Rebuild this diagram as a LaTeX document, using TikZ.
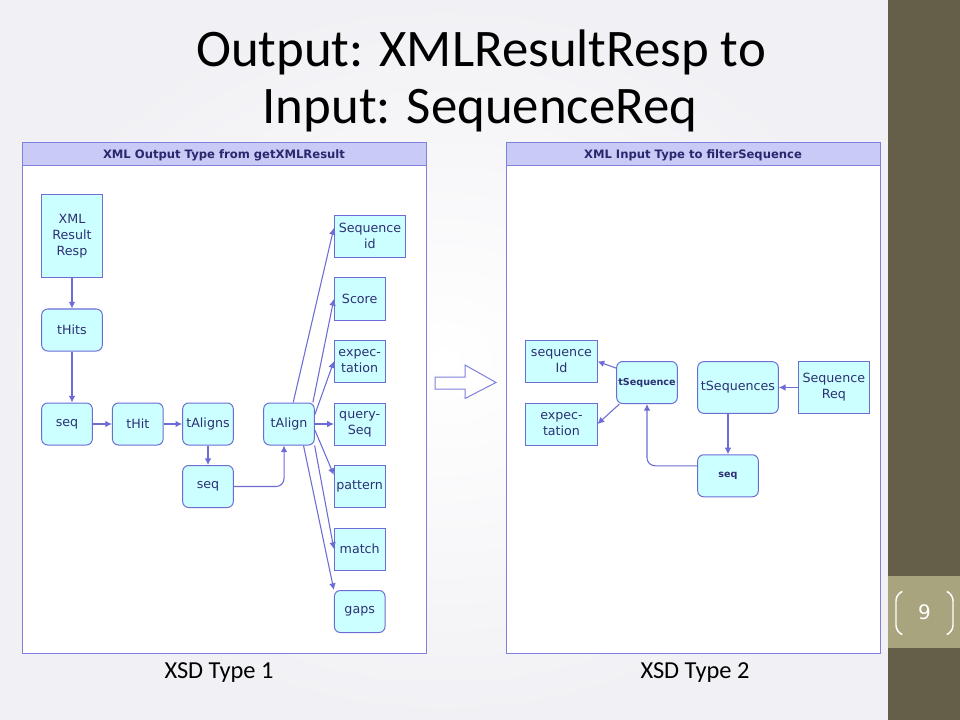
\documentclass[tikz,border=0pt]{standalone}
\usepackage{fontspec}
\setmainfont{Carlito}
\newfontfamily\boxfont{DejaVu Sans}
\usepackage{tikz}
\usetikzlibrary{arrows.meta}

\definecolor{bandDark}{RGB}{101,95,73}
\definecolor{bandLight}{RGB}{168,164,126}
\definecolor{frameBlue}{RGB}{128,128,222}
\definecolor{headFill}{RGB}{202,202,247}
\definecolor{headText}{RGB}{40,40,110}
\definecolor{boxFill}{RGB}{204,255,255}
\definecolor{boxLine}{RGB}{108,108,212}
\definecolor{boxText}{RGB}{45,48,115}

\tikzset{
  sqbox/.style={draw=boxLine, fill=boxFill, line width=0.75pt, inner sep=1pt,
    minimum width=38pt, minimum height=31.5pt, align=center, text=boxText,
    font=\boxfont\fontsize{9.5}{12}\selectfont},
  rdbox/.style={sqbox, rounded corners=4.5pt},
  smalltype/.style={font=\boxfont\bfseries\fontsize{7.2}{9}\selectfont},
  header/.style={text=headText, font=\boxfont\bfseries\fontsize{8.7}{10}\selectfont},
  link/.style={draw=boxLine, line width=0.8pt, -{Latex[length=5pt,width=5pt]}},
}

\begin{document}
\begin{tikzpicture}[x=0.75pt,y=0.75pt,yscale=-1,xscale=1]
\useasboundingbox (0,0) rectangle (960,720);

%Background
\shade[inner color=white, outer color={rgb,255:red,241;green,241;blue,245}] (0,0) rectangle (888,720);
\fill[bandDark] (888,0) rectangle (960,720);
\fill[bandLight] (888,576) rectangle (960,648);
\draw[white, line width=1.1pt, rounded corners=5pt] (901,592) -- (896,594) -- (896,632) -- (901,634);
\draw[white, line width=1.1pt, rounded corners=5pt] (948,592) -- (953,594) -- (953,632) -- (948,634);
% Text Node
\node[text=white, font=\boxfont\fontsize{15}{17}\selectfont] (pgnum) at (924.5,612.5) {9};

% Text Node
\node[font=\fontsize{39.6}{48}\selectfont, anchor=base] (titleA) at (481,67) {Output: XMLResultResp to};
% Text Node
\node[font=\fontsize{39.6}{48}\selectfont, anchor=base] (titleB) at (480,124) {Input: SequenceReq};

%Shape: Rectangle
\draw[draw=frameBlue, fill=white, line width=0.75pt] (22,143) rectangle (426,653);
\draw[draw=frameBlue, fill=headFill, line width=0.75pt] (22,143) rectangle (426,166);
%Shape: Rectangle
\draw[draw=frameBlue, fill=white, line width=0.75pt] (506,143) rectangle (880,653);
\draw[draw=frameBlue, fill=headFill, line width=0.75pt] (506,143) rectangle (880,166);
% Text Node
\node[header] (hdrOut) at (224,155) {XML Output Type from getXMLResult};
% Text Node
\node[header] (hdrIn) at (693,155) {XML Input Type to filterSequence};

%Shape: Hollow Arrow
\draw[draw=frameBlue, fill=white, line width=0.75pt] (435,377) -- (465,377) -- (465,365) -- (496,382.5) -- (465,398.5) -- (465,389) -- (435,389) -- cycle;

% Left nodes
\node[sqbox, minimum width=45.5pt, minimum height=62.5pt] (xml) at (72,236) {XML\\Result\\Resp};
\node[rdbox, minimum width=45.5pt] (tHits) at (72,330) {tHits};
\node[rdbox] (seqA) at (67,424) {seq};
\node[rdbox] (tHit) at (137.8,424) {tHit};
\node[rdbox] (tAligns) at (208,424) {tAligns};
\node[rdbox] (seqB) at (208,486.5) {seq};
\node[rdbox] (tAlign) at (289,424) {tAlign};
\node[sqbox, minimum width=53.5pt] (seqid) at (370,236.3) {Sequence\\id};
\node[sqbox] (score) at (359.7,299) {Score};
\node[sqbox] (expect) at (359.7,361.3) {expec-\\tation};
\node[sqbox] (qseq) at (359.7,424) {query-\\Seq};
\node[sqbox] (pattern) at (359.7,486.5) {pattern};
\node[sqbox] (match) at (359.7,549) {match};
\node[rdbox] (gaps) at (359.7,611.5) {gaps};

% Right nodes
\node[sqbox, minimum width=53.3pt] (seqId) at (561.5,361.5) {sequence\\Id};
\node[sqbox, minimum width=53.3pt] (expectB) at (561.5,424) {expec-\\tation};
\node[rdbox, smalltype, minimum width=45.5pt] (tSeq) at (647,382.5) {tSequence};
\node[rdbox, minimum width=60.5pt, minimum height=38.7pt] (tSeqs) at (738,387.5) {tSequences};
\node[sqbox, minimum width=53.3pt, minimum height=38.7pt] (seqReq) at (833.8,387.5) {Sequence\\Req};
\node[rdbox, smalltype, minimum width=45.5pt] (seqC) at (728,475.8) {seq};

%Straight Lines
\draw[link] (xml.south) -- (tHits.north);
\draw[link] (tHits.south) -- (tHits.south |- seqA.north);
\draw[link] (seqA) -- (tHit);
\draw[link] (tHit) -- (tAligns);
\draw[link] (tAligns) -- (seqB);
\draw[link, rounded corners=6pt] (seqB.east) -| (tAlign.257);
\draw[link] (tAlign.79) -- (seqid.167);
\draw[link] (tAlign.42) -- (score.west);
\draw[link] (tAlign.20) -- (expect.west);
\draw[link] (tAlign.east) -- (qseq.west);
\draw[link] (tAlign.347) -- (pattern.156);
\draw[link] (tAlign.320) -- (match.west);
\draw[link] (tAlign.304) -- (gaps.north west);

%Straight Lines
\draw[link] (seqReq.west) -- (tSeqs.east);
\draw[link] (tSeqs.south -| seqC.north) -- (seqC.north);
\draw[link, rounded corners=6pt] (seqC.162) -| (tSeq.south);
\draw[link] (tSeq.155) -- (seqId.east);
\draw[link] (tSeq.218) -- (expectB.east);

% Text Node
\node[font=\fontsize{18.3}{22}\selectfont, anchor=base] (typeA) at (219,678) {XSD Type 1};
% Text Node
\node[font=\fontsize{18.3}{22}\selectfont, anchor=base] (typeB) at (695,678) {XSD Type 2};

\end{tikzpicture}
\end{document}
